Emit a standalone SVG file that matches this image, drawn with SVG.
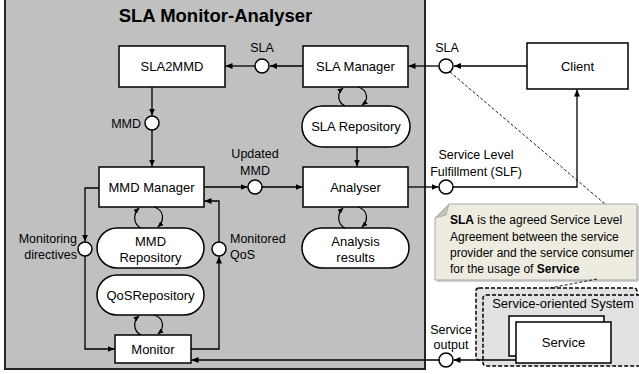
<svg xmlns="http://www.w3.org/2000/svg" width="639" height="374" viewBox="0 0 639 374">
  <defs>
    <marker id="arr" markerUnits="userSpaceOnUse" markerWidth="7" markerHeight="6" refX="7" refY="3" orient="auto">
      <path d="M0,0 L7,3 L0,6 Z" fill="#000"/>
    </marker>
    <marker id="arrs" markerUnits="userSpaceOnUse" markerWidth="6" markerHeight="5" refX="5.5" refY="2.5" orient="auto">
      <path d="M0,0 L6,2.5 L0,5 Z" fill="#000"/>
    </marker>
  </defs>
  <style>
    text { font-family: "Liberation Sans", Arial, sans-serif; fill: #000; }
    .box { fill: #fff; stroke: #000; stroke-width: 1.5; }
    .lbl { font-size: 13px; text-anchor: middle; }
    .cl { font-size: 12.5px; }
    .iface { fill: #fff; stroke: #000; stroke-width: 1.5; }
    .wire { fill: none; stroke: #000; stroke-width: 1.3; marker-end: url(#arr); }
    .loop { fill: none; stroke: #000; stroke-width: 1.2; marker-end: url(#arrs); }
    .note { font-size: 12px; }
  </style>

  <rect width="639" height="374" fill="#fff"/>

  <!-- container -->
  <g id="sla-monitor-analyser">
    <rect x="5" y="-3" width="420" height="372" fill="#c0c0c0" stroke="#262626" stroke-width="2"/>
    <text x="215.5" y="22" font-size="18.5" font-weight="bold" text-anchor="middle">SLA Monitor-Analyser</text>
  </g>

  <!-- service-oriented system -->
  <g id="service-oriented-system">
    <rect x="476" y="288" width="161" height="72" rx="3" fill="#e2e2e2" stroke="#000" stroke-width="1.5" stroke-dasharray="4,2"/>
    <rect x="483" y="295" width="160" height="71" rx="3" fill="#e2e2e2" stroke="#000" stroke-width="1.5" stroke-dasharray="4,2"/>
    <text class="lbl" x="563" y="308">Service-oriented System</text>
  </g>
  <g id="service">
    <rect class="box" x="509" y="316" width="95" height="40"/>
    <rect class="box" x="516" y="322" width="95" height="41"/>
    <text class="lbl" x="563.5" y="347">Service</text>
  </g>

  <g id="sla2mmd">
    <rect class="box" x="119" y="46" width="106" height="41"/>
    <text class="lbl" x="172" y="71">SLA2MMD</text>
  </g>
  <g id="sla-manager">
    <rect class="box" x="303" y="46" width="105" height="41"/>
    <text class="lbl" x="355.5" y="71">SLA Manager</text>
  </g>
  <g id="client">
    <rect class="box" x="527" y="43" width="101" height="46"/>
    <text class="lbl" x="577.5" y="71">Client</text>
  </g>
  <g id="sla-repository">
    <rect class="box" x="302" y="106" width="108" height="41" rx="20.5"/>
    <text class="lbl" x="356" y="131">SLA Repository</text>
  </g>
  <g id="mmd-manager">
    <rect class="box" x="99" y="167" width="105" height="40"/>
    <text class="lbl" x="151.5" y="192">MMD Manager</text>
  </g>
  <g id="analyser">
    <rect class="box" x="303" y="167" width="105" height="40"/>
    <text class="lbl" x="355.5" y="192">Analyser</text>
  </g>
  <g id="mmd-repository">
    <rect class="box" x="97" y="228" width="107" height="40" rx="20"/>
    <text class="lbl" x="150.5" y="246">MMD</text>
    <text class="lbl" x="150.5" y="262">Repository</text>
  </g>
  <g id="analysis-results">
    <rect class="box" x="302" y="228" width="107" height="40" rx="20"/>
    <text class="lbl" x="355.5" y="246">Analysis</text>
    <text class="lbl" x="355.5" y="262">results</text>
  </g>
  <g id="qos-repository">
    <rect class="box" x="97" y="275" width="107" height="40" rx="20"/>
    <text class="lbl" x="150.5" y="300">QoSRepository</text>
  </g>
  <g id="monitor">
    <rect class="box" x="115" y="335" width="76" height="28"/>
    <text class="lbl" x="153" y="354">Monitor</text>
  </g>

  <!-- note -->
  <g id="sla-note">
    <path d="M451,206 H639 V282 H437 V220 Z" fill="#9a9a9a" opacity="0.45"/>
    <path d="M449,204 H637 V280 H435 V218 Z" fill="#eeece1" stroke="#a6a6a6" stroke-width="1"/>
    <path d="M435,218 L449,204 L446,215 Z" fill="#c8c4b4" stroke="#a6a6a6" stroke-width="0.8"/>
    <text class="note" x="450" y="224"><tspan font-weight="bold">SLA</tspan> is the agreed Service Level</text>
    <text class="note" x="450" y="240.5">Agreement between the service</text>
    <text class="note" x="450" y="257">provider and the service consumer</text>
    <text class="note" x="450" y="273">for the usage of <tspan font-weight="bold">Service</tspan></text>
  </g>

  <!-- connectors -->
  <g id="connectors">
    <!-- client to SLA manager -->
    <line class="wire" x1="527" y1="66" x2="454" y2="66"/>
    <line class="wire" x1="439" y1="66" x2="408.5" y2="66"/>
    <!-- SLA manager to SLA2MMD -->
    <line class="wire" x1="303" y1="66" x2="270" y2="66"/>
    <line class="wire" x1="255" y1="66" x2="225.5" y2="66"/>
    <!-- SLA2MMD to MMD manager -->
    <line class="wire" x1="152" y1="87" x2="152" y2="115.5"/>
    <line class="wire" x1="152" y1="130" x2="152" y2="166.5"/>
    <!-- SLA repository to analyser -->
    <line class="wire" x1="357" y1="147" x2="357" y2="166.5"/>
    <!-- updated MMD -->
    <line class="wire" x1="204" y1="187" x2="247.5" y2="187"/>
    <line class="wire" x1="262" y1="187" x2="302.5" y2="187"/>
    <!-- service level fulfillment -->
    <line class="wire" x1="408" y1="187" x2="438.5" y2="187"/>
    <polyline class="wire" points="453,187 577,187 577,89.5"/>
    <!-- monitoring directives -->
    <polyline class="wire" points="99,188 85,188 85,241.5"/>
    <polyline class="wire" points="85,256 85,349 114.5,349"/>
    <!-- monitored QoS -->
    <polyline class="wire" points="191,349 219,349 219,256.5"/>
    <polyline class="wire" points="219,242 219,201 204.5,201"/>
    <!-- service output -->
    <line class="wire" x1="516" y1="360" x2="453.5" y2="360"/>
    <line class="wire" x1="439" y1="360" x2="191.5" y2="360"/>

    <!-- manager / repository exchange loops -->
    <path class="loop" d="M345,106 C337,102 337,93 343,88"/>
    <path class="loop" d="M358,87 C368,90 369,100 362,105"/>
    <path class="loop" d="M141,228 C133,224 133,214 139,208"/>
    <path class="loop" d="M154,207 C164,210 165,220 158,227"/>
    <path class="loop" d="M345,228 C337,224 337,214 343,208"/>
    <path class="loop" d="M358,207 C368,210 369,220 362,227"/>
    <path class="loop" d="M141,335 C133,331 133,321 139,316"/>
    <path class="loop" d="M154,315 C164,318 165,328 158,334"/>

    <!-- note anchors -->
    <line x1="450" y1="72" x2="605" y2="204" stroke="#000" stroke-width="0.9" stroke-dasharray="3,2"/>
    <line x1="597" y1="279" x2="550" y2="288" stroke="#000" stroke-width="0.9" stroke-dasharray="3,2"/>
  </g>

  <!-- interfaces -->
  <g id="interfaces">
    <circle class="iface" cx="262" cy="66" r="7"/>
    <circle class="iface" cx="446" cy="66" r="7"/>
    <circle class="iface" cx="152" cy="123" r="7"/>
    <circle class="iface" cx="255" cy="187" r="7"/>
    <circle class="iface" cx="446" cy="187" r="7"/>
    <circle class="iface" cx="85" cy="249" r="7"/>
    <circle class="iface" cx="219" cy="249" r="7"/>
    <circle class="iface" cx="446" cy="360" r="7"/>
  </g>

  <!-- interface labels -->
  <g id="interface-labels">
    <text class="cl" x="262" y="52" text-anchor="middle">SLA</text>
    <text class="cl" x="447" y="52" text-anchor="middle">SLA</text>
    <text class="cl" x="141" y="128" text-anchor="end">MMD</text>
    <text class="cl" x="255" y="158" text-anchor="middle">Updated</text>
    <text class="cl" x="255" y="175" text-anchor="middle">MMD</text>
    <text class="cl" x="476" y="159" text-anchor="middle">Service Level</text>
    <text class="cl" x="476" y="176" text-anchor="middle">Fulfillment (SLF)</text>
    <text class="cl" x="77" y="243" text-anchor="end">Monitoring</text>
    <text class="cl" x="77" y="259" text-anchor="end">directives</text>
    <text class="cl" x="230" y="243">Monitored</text>
    <text class="cl" x="230" y="259">QoS</text>
    <text class="cl" x="451" y="334" text-anchor="middle">Service</text>
    <text class="cl" x="451" y="349" text-anchor="middle">output</text>
  </g>
</svg>
